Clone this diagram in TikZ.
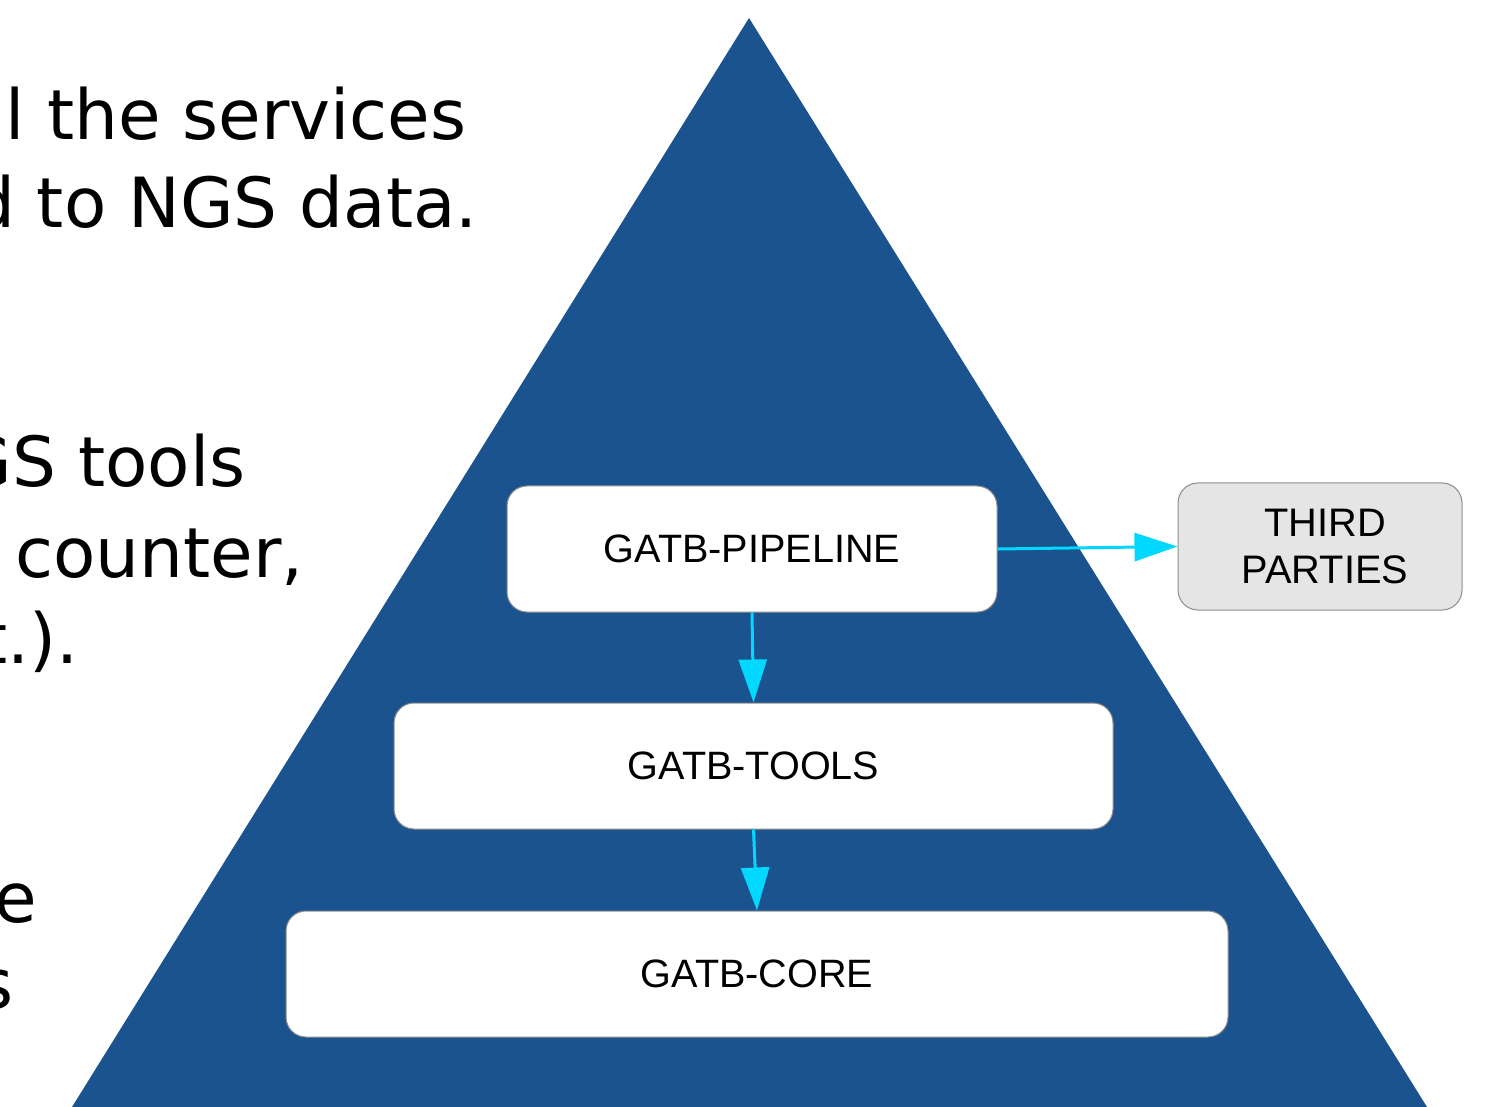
\documentclass[tikz,border=0pt]{standalone}
\usepackage{fontspec}
\setmainfont{Liberation Sans}
\newfontfamily\djv{DejaVu Sans}
\usetikzlibrary{arrows.meta}
\definecolor{pyr}{RGB}{27,83,143}
\definecolor{arr}{RGB}{0,216,255}
\definecolor{bord}{RGB}{140,140,140}
\definecolor{tpfill}{RGB}{229,229,229}
\tikzset{
  layer/.style={draw=bord, line width=0.5pt, fill=white, rounded corners=10pt,
    minimum height=63pt, inner sep=0pt, font=\fontsize{19.8pt}{23pt}\selectfont, align=center},
  third/.style={layer, fill=tpfill, minimum width=142pt, minimum height=63.5pt},
  flow/.style={draw=arr, line width=1.5pt, -{Triangle[length=21.5pt,width=14pt]}},
  bigtxt/.style={anchor=base east, inner sep=0pt, font=\djv\fontsize{34.6pt}{44pt}\selectfont}
}
\begin{document}
\begin{tikzpicture}[x=0.5pt,y=-0.5pt]
\useasboundingbox (0,0) rectangle (1485,1107);
\clip (0,0) rectangle (1485,1107);
\fill[white] (0,0) rectangle (1485,1107);
% pyramid
\fill[pyr] (749,18) -- (1427,1107) -- (72,1107) -- cycle;
% left text (cut by page edge, as in the reference)
\node[bigtxt] (t1) at (467,140) {l the services};
\node[bigtxt] (t2) at (478,228) {d to NGS data.};
\node[bigtxt] (t3) at (246,487) {GS tools};
\node[bigtxt] (t4) at (304,577) {counter,};
\node[bigtxt] (t5) at (79,663) {t.).};
\node[bigtxt] (t6) at (37,922) {e};
\node[bigtxt] (t7) at (14,1008) {s};
% layers
\node[layer, minimum width=245pt] (pipe) at (752,549) {GATB-PIPELINE};
\node[layer, minimum width=359.5pt] (tools) at (753.5,766) {GATB-TOOLS};
\node[layer, minimum width=471pt] (core) at (757,974) {GATB-CORE};
\node[third, font=\fontsize{19.9pt}{23.5pt}\selectfont] (tp) at (1320,546.5) {\hspace*{5pt}THIRD\\\hspace*{5pt}PARTIES};
% connectors
\draw[flow] (pipe.south) -- (tools.north);
\draw[flow] (tools.south) -- (core.north);
\draw[flow] (pipe.east) -- (tp.west);
\end{tikzpicture}
\end{document}
